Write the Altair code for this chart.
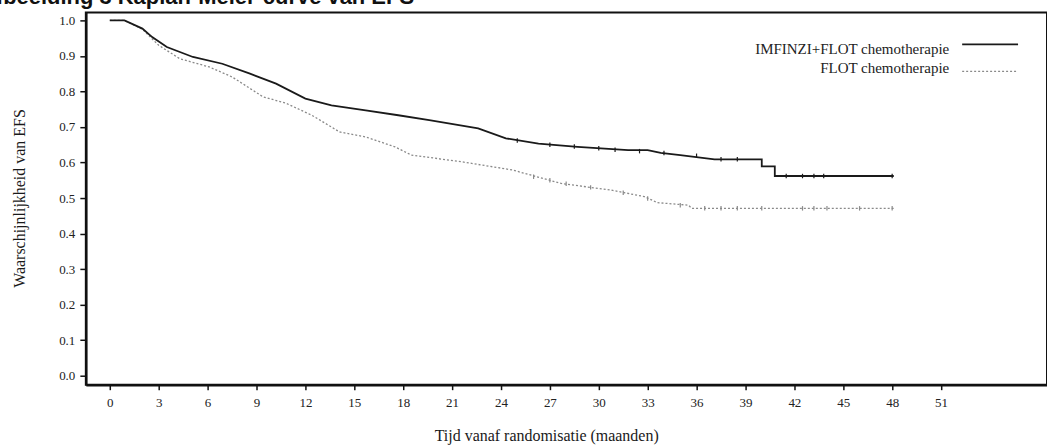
import altair as alt
import pandas as pd

# ---------------- data ----------------
series_names = ["IMFINZI+FLOT chemotherapie", "FLOT chemotherapie"]

imf_t = [0, 0.9, 2.0, 2.6, 3.5, 4.3, 5.1, 6.9, 8.6, 10.2, 12.0, 13.6, 15.7, 17.7,
         19.6, 22.6, 24.3, 26.3, 28.7, 31.8, 33.0, 33.8, 35.0, 37.1, 40.0, 40.0,
         40.8, 40.8, 48.1]
imf_s = [1.0, 1.0, 0.977, 0.953, 0.925, 0.911, 0.897, 0.878, 0.85, 0.822, 0.78, 0.761,
         0.747, 0.733, 0.719, 0.696, 0.668, 0.653, 0.644, 0.635, 0.635, 0.627, 0.621,
         0.609, 0.609, 0.589, 0.589, 0.562, 0.562]

flot_t = [0, 0.9, 2.0, 3.0, 4.3, 6.1, 7.5, 9.4, 10.8, 12.4, 14.1, 15.7, 17.5, 18.5,
          21.6, 24.7, 27.7, 30.8, 32.8, 33.6, 35.5, 35.7, 48.1]
flot_s = [1.0, 1.0, 0.975, 0.93, 0.892, 0.869, 0.841, 0.785, 0.767, 0.733, 0.686, 0.672,
          0.644, 0.621, 0.602, 0.579, 0.541, 0.522, 0.504, 0.487, 0.48, 0.471, 0.471]

imf_cens_t = [25.0, 27.0, 28.5, 30.0, 31.0, 32.5, 34.0, 36.0, 37.5, 38.5, 41.5, 42.5, 43.2, 43.8, 48.0]
imf_cens_s = [0.662, 0.65, 0.645, 0.64, 0.636, 0.632, 0.627, 0.619, 0.609, 0.609, 0.562, 0.562, 0.562, 0.562, 0.562]

flot_cens_t = [26.0, 27.0, 28.0, 29.5, 31.5, 33.0, 35.0, 36.5, 37.5, 38.5, 40.0, 42.5, 43.2, 44.0, 46.0, 48.0]
flot_cens_s = [0.56, 0.55, 0.54, 0.53, 0.515, 0.499, 0.48, 0.471, 0.471, 0.471, 0.471, 0.471, 0.471, 0.471, 0.471, 0.471]

x_ticks = [0, 3, 6, 9, 12, 15, 18, 21, 24, 27, 30, 33, 36, 39, 42, 45, 48, 51]
y_ticks = [0.0, 0.1, 0.2, 0.3, 0.4, 0.5, 0.6, 0.7, 0.8, 0.9, 1.0]

x_title = "Tijd vanaf randomisatie (maanden)"
y_title = "Waarschijnlijkheid van EFS"
page_title = "Afbeelding 3 Kaplan-Meier-curve van EFS"

# ---------------- tables ----------------
curve_df = pd.concat([
    pd.DataFrame({"t": imf_t, "s": imf_s, "series": series_names[0], "ord": range(len(imf_t))}),
    pd.DataFrame({"t": flot_t, "s": flot_s, "series": series_names[1], "ord": range(len(flot_t))}),
])
cens_df = pd.concat([
    pd.DataFrame({"t": imf_cens_t, "s": imf_cens_s, "series": series_names[0]}),
    pd.DataFrame({"t": flot_cens_t, "s": flot_cens_s, "series": series_names[1]}),
])

FONT = "Liberation Serif"
x_scale = alt.Scale(domain=[-1.47, 57.5], nice=False, zero=False)
y_scale = alt.Scale(domain=[-0.0253, 1.0225], nice=False, zero=False)

x_enc = alt.X("t:Q", scale=x_scale, axis=alt.Axis(
    values=x_ticks, title=x_title, tickSize=5, labelPadding=7, titlePadding=18,
    labelFontSize=13, titleFontSize=16, labelFlush=False,
    titleX=349, titleAlign="left", titleAnchor="start"))
y_enc = alt.Y("s:Q", scale=y_scale, axis=alt.Axis(
    values=y_ticks, format=".1f", title=y_title, tickSize=6, labelPadding=5,
    labelFontSize=13, titleFontSize=16, titleAngle=270, titleX=-66, titleY=186,
    titleAlign="center", titleBaseline="middle", labelFlush=False))

base = alt.Chart(curve_df)
solid = base.transform_filter(alt.datum.series == series_names[0]).mark_line(
    color="#1a1a1a", strokeWidth=1.8).encode(x=x_enc, y=y_enc, order="ord:Q")
dotted = base.transform_filter(alt.datum.series == series_names[1]).mark_line(
    color="#8a8a8a", strokeWidth=1.3, strokeDash=[2, 2]).encode(x=x_enc, y=y_enc, order="ord:Q")

cbase = alt.Chart(cens_df)
cens_solid = cbase.transform_filter(alt.datum.series == series_names[0]).mark_point(
    shape="M0,-1L0,1", size=20, filled=False, strokeWidth=1.2, color="#1a1a1a", opacity=1
).encode(x=x_enc, y=y_enc)
cens_dot = cbase.transform_filter(alt.datum.series == series_names[1]).mark_point(
    shape="M0,-1L0,1", size=20, filled=False, strokeWidth=1.2, color="#8a8a8a", opacity=1
).encode(x=x_enc, y=y_enc)

leg_df = pd.DataFrame({"name": series_names})
leg_text1 = alt.Chart(leg_df).transform_filter(alt.datum.name == series_names[0]).mark_text(
    align="right", baseline="middle", font=FONT, fontSize=15, color="#222"
).encode(x=alt.value(865), y=alt.value(37), text="name:N")
leg_text2 = alt.Chart(leg_df).transform_filter(alt.datum.name == series_names[1]).mark_text(
    align="right", baseline="middle", font=FONT, fontSize=15, color="#222"
).encode(x=alt.value(865), y=alt.value(56), text="name:N")
leg_line1 = alt.Chart(leg_df).transform_filter(alt.datum.name == series_names[0]).mark_rule(
    color="#1a1a1a", strokeWidth=1.8).encode(x=alt.value(878), x2=alt.value(934), y=alt.value(32))
leg_line2 = alt.Chart(leg_df).transform_filter(alt.datum.name == series_names[1]).mark_rule(
    color="#8a8a8a", strokeWidth=1.3, strokeDash=[2, 2]).encode(x=alt.value(878), x2=alt.value(934), y=alt.value(59))

title_mark = alt.Chart(pd.DataFrame({"label": [page_title]})).mark_text(
    align="left", baseline="alphabetic", font="Liberation Sans", fontWeight="bold",
    fontSize=22, color="#111"
).encode(x=alt.value(-106), y=alt.value(-8), text="label:N")

chart = alt.layer(
    dotted, solid, cens_dot, cens_solid,
    leg_line1, leg_line2, leg_text1, leg_text2, title_mark
).properties(
    width=963, height=373,
    background="white",
    autosize=alt.AutoSizeParams(type="none"),
    padding={"left": 86, "top": 12, "right": 0, "bottom": 61},
).configure_view(
    stroke="#111", strokeWidth=2
).configure_axis(
    grid=False, domainColor="#111", domainWidth=2.5, tickColor="#111", tickWidth=1.5,
    labelFont=FONT, titleFont=FONT, labelColor="#222", titleColor="#1a1a1a",
    titleFontWeight="normal"
)

chart.save("out.html", embed_options={"renderer": "svg", "actions": False})
